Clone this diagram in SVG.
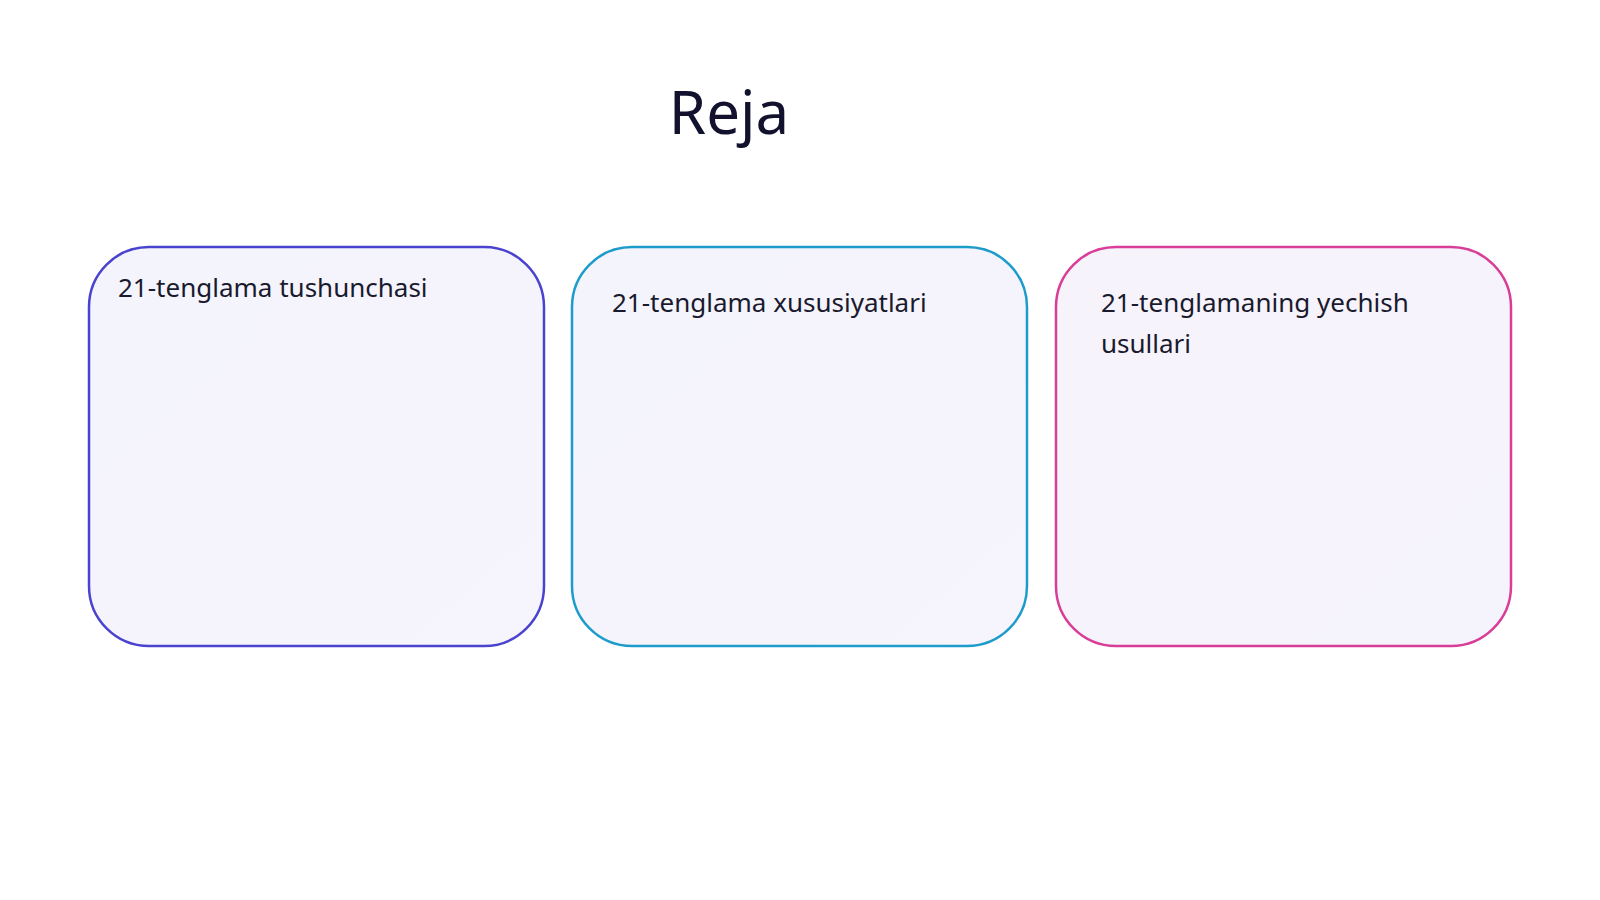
<svg xmlns="http://www.w3.org/2000/svg" width="1600" height="900" viewBox="0 0 1600 900">
<style>
.card{stroke-width:2.5}
.t{font-family:"Noto Sans","Open Sans",sans-serif;font-size:26px;fill:#1a1a2e}
</style>
<defs>
<linearGradient id="bg1" x1="0" y1="0" x2="1" y2="1"><stop offset="0" stop-color="#f4f4fd"/><stop offset="1" stop-color="#f6f4fc"/></linearGradient>
<linearGradient id="bg3" x1="0" y1="0" x2="1" y2="1"><stop offset="0" stop-color="#f7f3fb"/><stop offset="1" stop-color="#f5f3fd"/></linearGradient>
</defs>
<rect width="1600" height="900" fill="#ffffff"/>
<text x="729" y="134" text-anchor="middle" font-family="Noto Sans,Open Sans,sans-serif" font-size="60" fill="#12122e">Reja</text>
<g id="node1"><rect class="card" x="89" y="247" width="455" height="399" rx="60" fill="url(#bg1)" stroke="#4a43cf"/>
<text class="t" x="118" y="297">21-tenglama tushunchasi</text></g>
<g id="node2"><rect class="card" x="572" y="247" width="455" height="399" rx="60" fill="url(#bg1)" stroke="#1d9ccc"/>
<text class="t" x="612" y="312">21-tenglama xususiyatlari</text></g>
<g id="node3"><rect class="card" x="1056" y="247" width="455" height="399" rx="60" fill="url(#bg3)" stroke="#d83e98"/>
<text class="t" x="1101" y="312">21-tenglamaning yechish</text>
<text class="t" x="1101" y="353">usullari</text></g>
<g id="connectors"/>
</svg>
